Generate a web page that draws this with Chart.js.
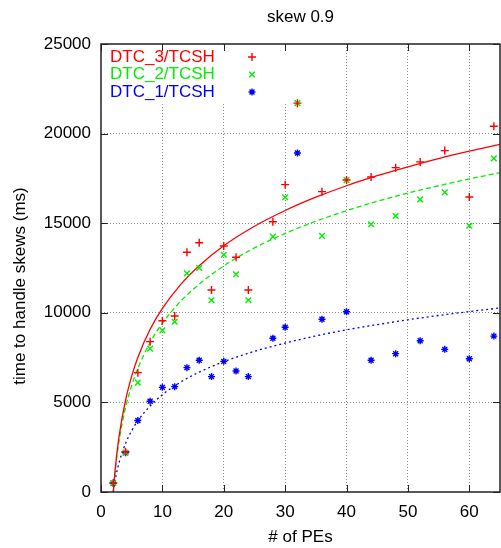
<!DOCTYPE html>
<html><head><meta charset="utf-8">
<script src="https://cdn.jsdelivr.net/npm/chart.js@4/dist/chart.umd.min.js"></script>
<style>html,body{margin:0;padding:0;background:#fff}#wrap{width:501px;height:548px}</style>
</head><body><div id="wrap"><canvas id="c" width="501" height="548"></canvas></div>
<script>
const chartTitle = 'skew 0.9';
const xTitle = '# of PEs';
const yTitle = 'time to handle skews (ms)';
const seriesLabels = ['DTC_3/TCSH', 'DTC_2/TCSH', 'DTC_1/TCSH'];
const xValues = [2, 4, 6, 8, 10, 12, 14, 16, 18, 20, 22, 24, 28, 30, 32, 36, 40, 44, 48, 52, 56, 60, 64];
const dtc3 = [500, 2250, 6660, 8390, 9560, 9820, 13380, 13910, 11270, 13730, 13100, 11270, 15080, 17150, 21700, 16760, 17410, 17580, 18100, 18420, 19050, 16460, 20410];
const dtc2 = [500, 2200, 6100, 8000, 9020, 9500, 12200, 12500, 10700, 13240, 12150, 10700, 14250, 16450, 21700, 14290, 17400, 14940, 15400, 16330, 16720, 14860, 18620];
const dtc1 = [490, 2190, 3990, 5060, 5840, 5880, 6940, 7350, 6440, 7290, 6750, 6440, 8580, 9190, 18920, 9640, 10060, 7350, 7720, 8440, 7960, 7440, 8700];
// fitted trend curves
const fitX = [2, 2.25, 2.5, 3, 4, 5, 6, 8, 10, 13, 16, 20, 25, 30, 35, 40, 45, 50, 55, 60, 65];
const fit3 = [0, 1040, 1890, 3230, 5120, 6470, 7510, 9080, 10250, 11590, 12630, 13740, 14830, 15710, 16450, 17090, 17650, 18150, 18610, 19020, 19400];
const fit2 = [0, 960, 1740, 2970, 4710, 5940, 6900, 8340, 9420, 10650, 11600, 12620, 13620, 14430, 15110, 15700, 16220, 16680, 17090, 17470, 17820];
const fit1 = [0, 550, 1000, 1710, 2710, 3420, 3970, 4800, 5430, 6140, 6690, 7270, 7850, 8310, 8710, 9050, 9340, 9610, 9850, 10070, 10270];
const xTicks = [0, 10, 20, 30, 40, 50, 60];
const yTicks = [0, 5000, 10000, 15000, 20000, 25000];

const colors = ['#ff0000', '#00ee00', '#0000ff'];
const styles = ['cross', 'crossRot', 'star'];
const dashes = [[], [5, 3], [2, 3]];
const FONT = 'Liberation Sans, Arial, Helvetica, sans-serif';

function pts(xs, ys) { return xs.map((x, i) => ({ x: x, y: ys[i] })); }

const seriesData = [dtc3, dtc2, dtc1];
const fitData = [fit3, fit2, fit1];
const datasets = [];
for (let i = 0; i < 3; i++) {
  datasets.push({
    label: seriesLabels[i], data: pts(xValues, seriesData[i]), showLine: false,
    pointStyle: styles[i], pointRadius: i === 2 ? 3.5 : 4, pointBorderWidth: 1.4,
    borderColor: colors[i], backgroundColor: colors[i], pointBorderColor: colors[i]
  });
}
for (let i = 0; i < 3; i++) {
  datasets.push({
    label: 'fit ' + seriesLabels[i], data: pts(fitX, fitData[i]), showLine: true,
    pointRadius: 0, borderColor: colors[i], borderWidth: 1.3, borderDash: dashes[i],
    cubicInterpolationMode: 'monotone', fill: false
  });
}

const deco = {
  id: 'deco',
  beforeDatasetsDraw(chart) {
    const c = chart.ctx;
    c.save();
    c.fillStyle = '#fff';
    c.fillRect(102, 45, 190, 58);
    c.restore();
  },
  afterDraw(chart) {
    const c = chart.ctx, a = chart.chartArea;
    const xs = chart.scales.x, ys = chart.scales.y;
    c.save();
    c.fillStyle = '#000';
    c.font = '17px ' + FONT;
    c.textAlign = 'center'; c.textBaseline = 'middle';
    c.fillText(chartTitle, (a.left + a.right) / 2, 17);
    c.save();
    c.translate(20, 286);
    c.rotate(-Math.PI / 2);
    c.fillText(yTitle, 0, 0);
    c.restore();
    const ly = [57, 74.5, 92];
    c.textAlign = 'left';
    for (let i = 0; i < 3; i++) {
      c.fillStyle = colors[i];
      c.fillText(seriesLabels[i], 110, ly[i]);
      c.strokeStyle = colors[i]; c.fillStyle = colors[i]; c.lineWidth = 1.4;
      Chart.helpers.drawPoint(c, { pointStyle: styles[i], radius: i === 2 ? 3.5 : 4, rotation: 0, borderWidth: 1.4 }, 252, ly[i]);
    }
    c.strokeStyle = '#222'; c.lineWidth = 1.5; c.setLineDash([]);
    c.strokeRect(a.left, a.top, a.right - a.left, a.bottom - a.top);
    c.lineWidth = 1;
    c.beginPath();
    xTicks.forEach(v => {
      const p = Math.round(xs.getPixelForValue(v)) + 0.5;
      c.moveTo(p, a.bottom); c.lineTo(p, a.bottom - 7);
      c.moveTo(p, a.top); c.lineTo(p, a.top + 7);
    });
    yTicks.forEach(v => {
      const p = Math.round(ys.getPixelForValue(v)) + 0.5;
      c.moveTo(a.left, p); c.lineTo(a.left + 7, p);
      c.moveTo(a.right, p); c.lineTo(a.right - 7, p);
    });
    c.stroke();
    c.restore();
  }
};

const gridColor = (edgeVals) => (ctx) => (ctx.tick && edgeVals.includes(ctx.tick.value)) ? 'rgba(0,0,0,0)' : '#8a8a8a';

new Chart(document.getElementById('c'), {
  type: 'scatter',
  data: { datasets: datasets },
  options: {
    responsive: false, animation: false, devicePixelRatio: 1,
    layout: { autoPadding: false, padding: { top: 44, right: 1, left: 0, bottom: 0 } },
    plugins: { legend: { display: false }, tooltip: { enabled: false }, title: { display: false } },
    scales: {
      x: {
        type: 'linear', min: 0, max: 65,
        afterBuildTicks: s => { s.ticks = xTicks.map(v => ({ value: v })); },
        afterFit: s => { s.height = 56; s.paddingLeft = 0; s.paddingRight = 0; },
        grid: { color: gridColor([0, 65]), lineWidth: 1, drawTicks: false },
        border: { display: false, dash: [1, 2] },
        ticks: { color: '#000', font: { family: FONT, size: 17 }, padding: 10, maxRotation: 0, autoSkip: false, callback: v => String(v) },
        title: { display: true, text: xTitle, color: '#000', font: { family: FONT, size: 17 }, padding: { top: 0, bottom: 0 } }
      },
      y: {
        type: 'linear', min: 0, max: 25000,
        afterBuildTicks: s => { s.ticks = yTicks.map(v => ({ value: v })); },
        afterFit: s => { s.width = 101; s.paddingTop = 0; s.paddingBottom = 0; },
        grid: { color: gridColor([0, 25000]), lineWidth: 1, drawTicks: false },
        border: { display: false, dash: [1, 2] },
        ticks: { color: '#000', font: { family: FONT, size: 17 }, padding: 10, autoSkip: false, callback: v => String(v) },
        title: { display: false }
      }
    }
  },
  plugins: [deco]
});
</script>
</body></html>
